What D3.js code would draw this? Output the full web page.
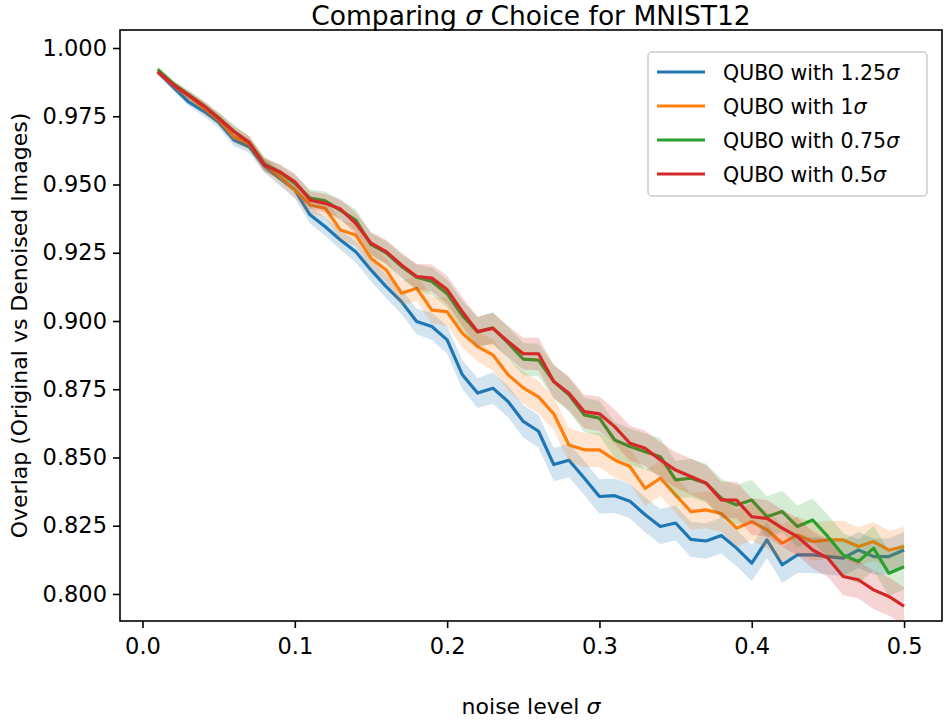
<!DOCTYPE html>
<html>
<head>
<meta charset="utf-8">
<script src="https://cdn.jsdelivr.net/npm/d3@7"></script>
<style>
  body { margin: 0; background: #fff; }
  text { font-family: "DejaVu Sans", sans-serif; fill: #000; }
</style>
</head>
<body>
<script>
const noise = [0.01,0.02,0.03,0.04,0.05,0.06,0.07,0.08,0.09,0.10,
  0.11,0.12,0.13,0.14,0.15,0.16,0.17,0.18,0.19,0.20,
  0.21,0.22,0.23,0.24,0.25,0.26,0.27,0.28,0.29,0.30,
  0.31,0.32,0.33,0.34,0.35,0.36,0.37,0.38,0.39,0.40,
  0.41,0.42,0.43,0.44,0.45,0.46,0.47,0.48,0.49,0.50]

const labels = ['1.25', '1', '0.75', '0.5']
const colors = ['#1f77b4', '#ff7f0e', '#2ca02c', '#d62728']

const q125 = [0.9913,0.9858,0.9804,0.9769,0.9728,0.9663,0.9638,0.9569,0.9523,0.9480,
  0.9389,0.9345,0.9297,0.9254,0.9187,0.9126,0.9071,0.8998,0.8980,0.8931,
  0.8803,0.8736,0.8754,0.8705,0.8632,0.8596,0.8474,0.8490,0.8425,0.8357,
  0.8360,0.8340,0.8290,0.8247,0.8260,0.8200,0.8194,0.8214,0.8168,0.8113,
  0.8198,0.8107,0.8143,0.8143,0.8137,0.8131,0.8161,0.8137,0.8137,0.8161]
const q100 = [0.9913,0.9866,0.9825,0.9782,0.9738,0.9675,0.9650,0.9577,0.9529,0.9480,
  0.9425,0.9413,0.9333,0.9315,0.9230,0.9187,0.9102,0.9120,0.9040,0.9034,
  0.8955,0.8906,0.8876,0.8803,0.8755,0.8722,0.8660,0.8546,0.8528,0.8528,
  0.8491,0.8467,0.8387,0.8424,0.8363,0.8302,0.8308,0.8295,0.8241,0.8265,
  0.8235,0.8186,0.8216,0.8192,0.8198,0.8198,0.8174,0.8192,0.8161,0.8174]
const q075 = [0.9922,0.9870,0.9830,0.9790,0.9745,0.9695,0.9655,0.9575,0.9545,0.9505,
  0.9450,0.9440,0.9405,0.9370,0.9280,0.9250,0.9200,0.9160,0.9145,0.9100,
  0.9020,0.8960,0.8975,0.8920,0.8860,0.8857,0.8778,0.8730,0.8656,0.8644,
  0.8564,0.8540,0.8521,0.8503,0.8418,0.8424,0.8406,0.8350,0.8326,0.8344,
  0.8283,0.8302,0.8247,0.8271,0.8210,0.8143,0.8119,0.8168,0.8076,0.8100]
const q050 = [0.9913,0.9866,0.9828,0.9789,0.9742,0.9694,0.9654,0.9571,0.9547,0.9510,
  0.9443,0.9431,0.9410,0.9358,0.9285,0.9254,0.9205,0.9163,0.9157,0.9115,
  0.9034,0.8961,0.8973,0.8925,0.8880,0.8880,0.8778,0.8735,0.8668,0.8660,
  0.8613,0.8552,0.8534,0.8491,0.8454,0.8430,0.8406,0.8345,0.8344,0.8283,
  0.8277,0.8241,0.8210,0.8161,0.8131,0.8064,0.8052,0.8015,0.7991,0.7955]

// half width of the shaded band around each line
const e125 = [0.0011,0.0013,0.0015,0.0018,0.0020,0.0022,0.0023,0.0025,0.0027,0.0030,
  0.0032,0.0034,0.0036,0.0039,0.0041,0.0043,0.0045,0.0047,0.0050,0.0051,
  0.0053,0.0055,0.0057,0.0058,0.0059,0.0060,0.0061,0.0062,0.0062,0.0063,
  0.0063,0.0063,0.0064,0.0064,0.0064,0.0065,0.0065,0.0065,0.0066,0.0066,
  0.0066,0.0066,0.0066,0.0066,0.0066,0.0066,0.0066,0.0066,0.0066,0.0066]
const e100 = [0.0011,0.0013,0.0015,0.0018,0.0020,0.0022,0.0023,0.0025,0.0027,0.0030,
  0.0032,0.0034,0.0036,0.0039,0.0041,0.0043,0.0045,0.0047,0.0050,0.0051,
  0.0053,0.0055,0.0057,0.0058,0.0059,0.0060,0.0061,0.0062,0.0063,0.0063,
  0.0064,0.0064,0.0065,0.0065,0.0066,0.0066,0.0067,0.0067,0.0068,0.0068,
  0.0068,0.0069,0.0069,0.0069,0.0070,0.0070,0.0070,0.0071,0.0071,0.0071]
const e075 = [0.0011,0.0013,0.0015,0.0018,0.0020,0.0022,0.0023,0.0025,0.0027,0.0030,
  0.0032,0.0034,0.0036,0.0039,0.0041,0.0043,0.0045,0.0047,0.0050,0.0051,
  0.0053,0.0055,0.0057,0.0058,0.0059,0.0060,0.0061,0.0062,0.0063,0.0064,
  0.0065,0.0066,0.0067,0.0068,0.0069,0.0070,0.0071,0.0072,0.0073,0.0074,
  0.0075,0.0076,0.0077,0.0078,0.0079,0.0080,0.0081,0.0082,0.0083,0.0084]
const e050 = [0.0011,0.0013,0.0015,0.0018,0.0020,0.0022,0.0023,0.0025,0.0027,0.0030,
  0.0032,0.0034,0.0036,0.0039,0.0041,0.0043,0.0045,0.0047,0.0050,0.0051,
  0.0053,0.0055,0.0057,0.0058,0.0059,0.0060,0.0061,0.0062,0.0062,0.0063,
  0.0063,0.0064,0.0064,0.0065,0.0065,0.0066,0.0066,0.0066,0.0067,0.0067,
  0.0067,0.0068,0.0068,0.0068,0.0069,0.0069,0.0069,0.0070,0.0070,0.0070]

const xTicks = [0.0, 0.1, 0.2, 0.3, 0.4, 0.5]
const yTicks = [0.800, 0.825, 0.850, 0.875, 0.900, 0.925, 0.950, 0.975, 1.000]

const series = [q125, q100, q075, q050]
const errors = [e125, e100, e075, e050]

const box = { width: 945, height: 720, left: 120, right: 942, top: 30, bottom: 621 }

const svg = d3.select('body')
  .append('svg')
  .attr('width', box.width)
  .attr('height', box.height)

const x = d3.scaleLinear().domain([-0.01477, 0.5249]).range([box.left, box.right])
const y = d3.scaleLinear().domain([0.7901, 1.0066]).range([box.bottom, box.top])

svg.append('clipPath').attr('id', 'plot')
  .append('rect')
  .attr('x', box.left).attr('y', box.top)
  .attr('width', box.right - box.left).attr('height', box.bottom - box.top)

const plot = svg.append('g').attr('clip-path', 'url(#plot)')

series.forEach((vals, k) => {
  const rows = noise.map((n, i) => ({ n: n, v: vals[i], e: errors[k][i] }))
  const line = d3.line().x(d => x(d.n)).y(d => y(d.v))
  const area = d3.area().x(d => x(d.n)).y0(d => y(d.v - d.e)).y1(d => y(d.v + d.e))
  plot.append('path')
    .datum(rows)
    .attr('d', line)
    .style('fill', 'none')
    .style('stroke', colors[k])
    .style('stroke-width', 3.2)
    .style('stroke-linejoin', 'round')
  plot.append('path')
    .datum(rows)
    .attr('d', area)
    .style('fill', colors[k])
    .style('fill-opacity', 0.2)
    .style('stroke', 'none')
})

// axes
const xAxis = d3.axisBottom(x).tickValues(xTicks).tickFormat(d3.format('.1f')).tickSizeOuter(0).tickSize(7).tickPadding(5)
const yAxis = d3.axisLeft(y).tickValues(yTicks).tickFormat(d3.format('.3f')).tickSizeOuter(0).tickSize(7).tickPadding(6)

const gx = svg.append('g').attr('transform', `translate(0,${box.bottom})`).call(xAxis)
const gy = svg.append('g').attr('transform', `translate(${box.left},0)`).call(yAxis)
gx.select('.domain').remove()
gy.select('.domain').remove()
;[gx, gy].forEach(g => {
  g.selectAll('line').style('stroke', '#000').style('stroke-width', 1.6)
  g.selectAll('text').style('font-family', '"DejaVu Sans", sans-serif').style('font-size', '22.5px').style('fill', '#000')
})
gx.selectAll('text').attr('dy', '0.93em')

// frame
svg.append('rect')
  .attr('x', box.left).attr('y', box.top)
  .attr('width', box.right - box.left).attr('height', box.bottom - box.top)
  .style('fill', 'none').style('stroke', '#000').style('stroke-width', 1.6)

// title and labels
const title = svg.append('text')
  .attr('x', (box.left + box.right) / 2).attr('y', 25)
  .attr('text-anchor', 'middle')
  .style('font-size', '26.5px')
title.append('tspan').text('Comparing ')
title.append('tspan').style('font-style', 'italic').text('σ')
title.append('tspan').text(' Choice for MNIST12')

const xl = svg.append('text')
  .attr('x', (box.left + box.right) / 2).attr('y', 714)
  .attr('text-anchor', 'middle')
  .style('font-size', '22px')
xl.append('tspan').text('noise level ')
xl.append('tspan').style('font-style', 'italic').text('σ')

svg.append('text')
  .attr('transform', `translate(27,${(box.top + box.bottom) / 2}) rotate(-90)`)
  .attr('text-anchor', 'middle')
  .style('font-size', '22px')
  .text('Overlap (Original vs Denoised Images)')

// legend
const leg = svg.append('g')
leg.append('rect')
  .attr('x', 648).attr('y', 52).attr('width', 279).attr('height', 144)
  .attr('rx', 4)
  .style('fill', '#fff').style('fill-opacity', 0.8)
  .style('stroke', '#cccccc').style('stroke-width', 1.5)

labels.forEach((lab, k) => {
  const ly = 72 + k * 34
  leg.append('line')
    .attr('x1', 657).attr('x2', 705).attr('y1', ly).attr('y2', ly)
    .style('stroke', colors[k]).style('stroke-width', 3.2)
  const t = leg.append('text')
    .attr('x', 723).attr('y', ly + 7.5)
    .style('font-size', '20.5px')
  t.append('tspan').text('QUBO with ' + lab)
  t.append('tspan').style('font-style', 'italic').text('σ')
})
</script>
</body>
</html>
